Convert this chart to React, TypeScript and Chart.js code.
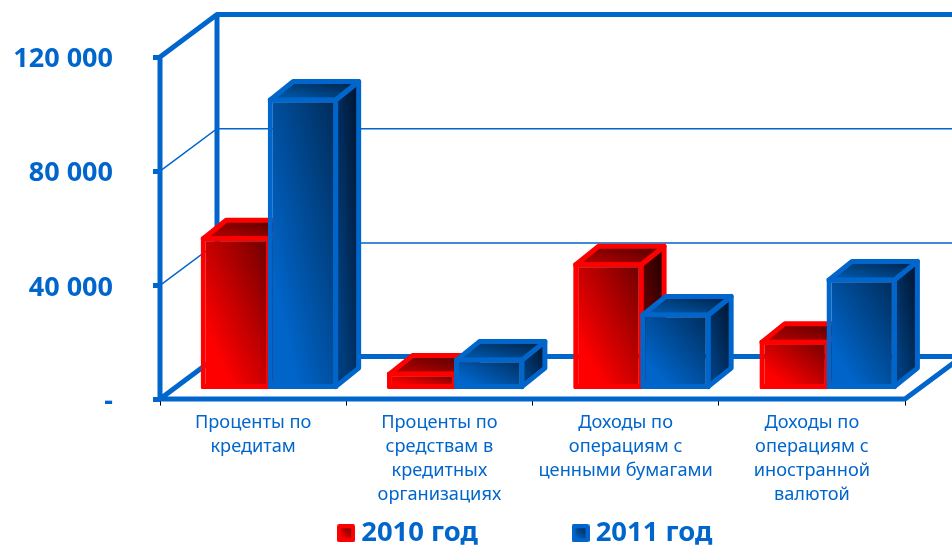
import React, { useEffect, useRef } from "react";
import { Chart, registerables } from "chart.js";

Chart.register(...registerables);

const categories = [
  ["Проценты по", "кредитам"],
  ["Проценты по", "средствам в", "кредитных", "организациях"],
  ["Доходы по", "операциям с", "ценными бумагами"],
  ["Доходы по", "операциям с", "иностранной", "валютой"],
];
const series2010 = [53700, 6300, 44600, 17500];
const series2011 = [102300, 11200, 27000, 39300];
const yTicks = [0, 40000, 80000, 120000];

const BLUE = "#0066cc";
const RED = "#ff0000";
const LINE = 5;
const WALL = { dx: 57, dy: -42.5 };
const BAR_SHIFT = { dx: 16.3, dy: -10 };
const DEPTH = { dx: 23, dy: -18.5 };

const palette: Record<string, { front: string[]; top: string[]; side: string[] }> = {
  red: { front: ["#ff0000", "#ff0000", "#6a0000"], top: ["#a80000", "#a80000", "#4a0000"], side: ["#700000", "#700000", "#1c0000"] },
  blue: { front: ["#0064c8", "#0064c8", "#002b58"], top: ["#00529f", "#00529f", "#001f42"], side: ["#003d7c", "#003d7c", "#00122a"] },
};

function diagonalGradient(ctx: CanvasRenderingContext2D, l: number, t: number, r: number, b: number, stops: string[]) {
  const w = Math.max(r - l, 1);
  const h = Math.max(b - t, 1);
  const n = Math.sqrt(w * w + h * h);
  const ux = h / n;
  const uy = -w / n;
  const half = (w * h) / n;
  const cx = (l + r) / 2;
  const cy = (t + b) / 2;
  const g = ctx.createLinearGradient(cx - ux * half, cy - uy * half, cx + ux * half, cy + uy * half);
  g.addColorStop(0, stops[0]);
  g.addColorStop(0.22, stops[1]);
  g.addColorStop(1, stops[2]);
  return g;
}

function frontFill(name: string, solid: string) {
  return (c: any) => {
    if (c.dataIndex === undefined || !c.chart.chartArea) return solid;
    const { x, y } = c.chart.scales;
    const cx = x.getPixelForValue(c.dataIndex);
    const step = x.getPixelForValue(1) - x.getPixelForValue(0);
    const w = step * 0.36;
    const sign = name === "red" ? -1 : 0;
    const left = cx + sign * w;
    return diagonalGradient(c.chart.ctx, left, y.getPixelForValue(c.raw), left + w, y.getPixelForValue(0), palette[name].front);
  };
}

function swatch(border: string, dark: string) {
  const cv = document.createElement("canvas");
  cv.width = 18;
  cv.height = 18;
  const ctx = cv.getContext("2d")!;
  ctx.fillStyle = border;
  ctx.beginPath();
  ctx.roundRect(0, 0, 18, 18, 2);
  ctx.fill();
  const g = ctx.createLinearGradient(4, 14, 14, 4);
  g.addColorStop(0, border);
  g.addColorStop(1, dark);
  ctx.fillStyle = g;
  ctx.fillRect(4, 4, 10, 10);
  return cv;
}

const scene3d = {
  id: "scene3d",
  afterLayout(chart: any) {
    const lg = chart.legend;
    lg.left += 76;
    lg.right += 76;
    lg.top += 12;
    lg.bottom += 12;
    // let the multi-line category labels extend below the nominal axis box
    const x = chart.scales.x;
    x.bottom = chart.height;
    x.height = x.bottom - x.top;
  },
  beforeDatasetsDraw(chart: any) {
    const { ctx, chartArea: a, scales } = chart;
    const y = scales.y;
    const { dx, dy } = WALL;
    const y0 = y.getPixelForValue(0) - 0.5;
    const yTop = y.getPixelForValue(120000);
    ctx.save();
    ctx.strokeStyle = BLUE;
    ctx.lineCap = "butt";
    ctx.lineWidth = 1.5;
    for (const v of yTicks.slice(1, -1)) {
      const p = y.getPixelForValue(v);
      ctx.beginPath();
      ctx.moveTo(a.left, p);
      ctx.lineTo(a.left + dx, p + dy);
      ctx.lineTo(chart.width + 20, p + dy);
      ctx.stroke();
    }
    ctx.lineWidth = LINE;
    ctx.lineJoin = "round";
    ctx.beginPath();
    ctx.moveTo(a.left, y0);
    ctx.lineTo(a.left, yTop);
    ctx.lineTo(a.left + dx, yTop + dy);
    ctx.lineTo(chart.width + 20, yTop + dy);
    ctx.moveTo(a.left + dx, yTop + dy);
    ctx.lineTo(a.left + dx, y0 + dy);
    ctx.lineTo(chart.width + 20, y0 + dy);
    ctx.moveTo(a.left + dx, y0 + dy);
    ctx.lineTo(a.left, y0);
    ctx.lineTo(a.right, y0);
    ctx.lineTo(a.right + dx, y0 + dy);
    ctx.stroke();
    ctx.restore();
  },
  beforeDatasetDraw() {
    return false;
  },
  afterDatasetsDraw(chart: any) {
    const { ctx } = chart;
    ctx.save();
    ctx.translate(BAR_SHIFT.dx, BAR_SHIFT.dy);
    ["red", "blue"].forEach((name, i) => {
      const meta = chart.getDatasetMeta(i);
      const stroke = i === 0 ? RED : BLUE;
      meta.data.forEach((bar: any) => {
        const p = bar.getProps(["x", "y", "base", "width"], true);
        const L = p.x - p.width / 2 + LINE / 2;
        const R = p.x + p.width / 2 - LINE / 2;
        const T = p.y + LINE / 2;
        const B = p.base - LINE / 2;
        ctx.lineWidth = LINE;
        ctx.lineJoin = "round";
        ctx.strokeStyle = stroke;
        ctx.fillStyle = diagonalGradient(ctx, R, T + DEPTH.dy, R + DEPTH.dx, B, palette[name].side);
        ctx.beginPath();
        ctx.moveTo(R, T);
        ctx.lineTo(R + DEPTH.dx, T + DEPTH.dy);
        ctx.lineTo(R + DEPTH.dx, B + DEPTH.dy);
        ctx.lineTo(R, B);
        ctx.closePath();
        ctx.fill();
        ctx.stroke();
        ctx.fillStyle = diagonalGradient(ctx, L, T + DEPTH.dy, R + DEPTH.dx, T, palette[name].top);
        ctx.beginPath();
        ctx.moveTo(L, T);
        ctx.lineTo(L + DEPTH.dx, T + DEPTH.dy);
        ctx.lineTo(R + DEPTH.dx, T + DEPTH.dy);
        ctx.lineTo(R, T);
        ctx.closePath();
        ctx.fill();
        ctx.stroke();
      });
      meta.controller.draw();
    });
    ctx.restore();
  },
};

export default function App() {
  const ref = useRef<HTMLCanvasElement | null>(null);
  useEffect(() => {
    document.body.style.margin = "0";
    const chart = new Chart(ref.current!, {
      type: "bar",
      data: {
        labels: categories,
        datasets: [
          {
            label: "2010 год",
            data: series2010,
            backgroundColor: frontFill("red", RED),
            borderColor: RED,
            borderWidth: LINE,
            borderSkipped: false,
            borderRadius: 1.5,
            inflateAmount: 0,
            categoryPercentage: 0.72,
            barPercentage: 1.05,
          },
          {
            label: "2011 год",
            data: series2011,
            backgroundColor: frontFill("blue", BLUE),
            borderColor: BLUE,
            borderWidth: LINE,
            borderSkipped: false,
            borderRadius: 1.5,
            inflateAmount: 0,
            categoryPercentage: 0.72,
            barPercentage: 1.05,
          },
        ],
      } as any,
      options: {
        responsive: false,
        animation: false,
        layout: { autoPadding: false, padding: { left: 0, right: 47, top: 57, bottom: 0 } },
        plugins: {
          tooltip: { enabled: false },
          legend: {
            position: "bottom",
            labels: {
              usePointStyle: true,
              boxWidth: 3,
              boxHeight: 3,
              padding: 101,
              color: BLUE,
              font: { family: "'Noto Sans'", size: 27.4, weight: "bold" },
              generateLabels: () => [
                { text: "2010 год", pointStyle: swatch(RED, "#7a0000"), fontColor: BLUE, datasetIndex: 0, lineWidth: 0 },
                { text: "2011 год", pointStyle: swatch(BLUE, "#002b58"), fontColor: BLUE, datasetIndex: 1, lineWidth: 0 },
              ],
            },
          },
        },
        scales: {
          x: {
            afterFit: (s: any) => {
              s.height = 7;
            },
            border: { color: "#000000", width: 1 },
            grid: { drawOnChartArea: false, color: "#000000", tickLength: 6, tickWidth: 1 },
            ticks: {
              autoSkip: false,
              maxRotation: 0,
              padding: 5,
              color: BLUE,
              font: { family: "'Noto Sans'", size: 18.2, lineHeight: 1.32 },
            },
          },
          y: {
            min: 0,
            max: 120000,
            afterFit: (s: any) => {
              s.width = 160;
            },
            afterBuildTicks: (s: any) => {
              s.ticks = yTicks.map((value) => ({ value }));
            },
            border: { display: false },
            grid: { drawOnChartArea: false, color: BLUE, tickLength: 7, tickWidth: 5 },
            ticks: {
              padding: 40,
              labelOffset: 2.5,
              color: BLUE,
              font: { family: "'Noto Sans'", size: 27, weight: "bold" },
              callback: (v: any) => (v === 0 ? "-" : String(v).replace(/\B(?=(\d{3})+$)/g, " ")),
            },
          },
        },
      } as any,
      plugins: [scene3d],
    });
    return () => chart.destroy();
  }, []);
  return <canvas ref={ref} width={952} height={545} style={{ display: "block", position: "absolute", left: 0, top: 0 }} />;
}
